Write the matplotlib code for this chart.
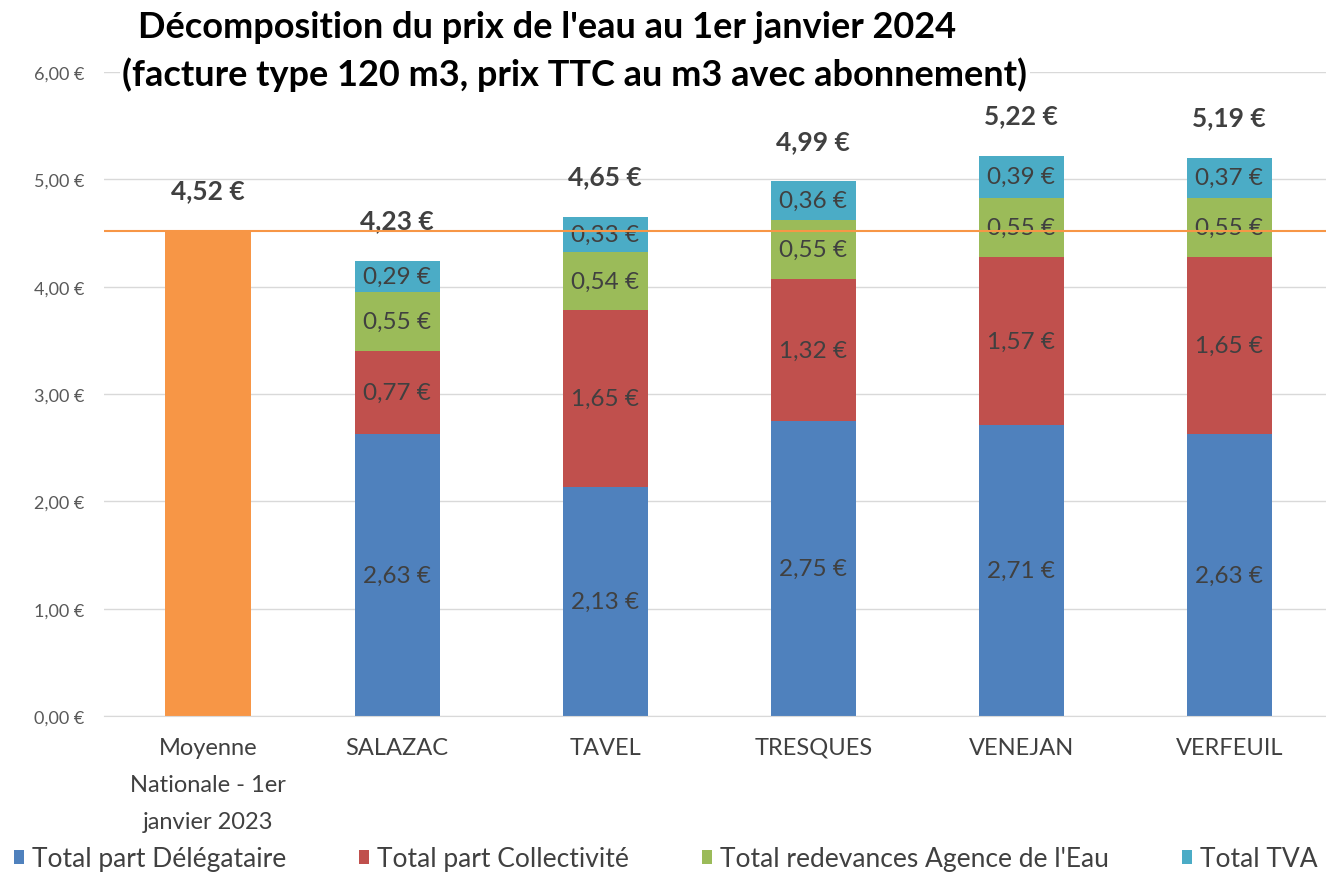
import matplotlib
matplotlib.use('Agg')
import matplotlib.pyplot as plt
import numpy as np

plt.rcParams['font.family'] = ['Lato', 'DejaVu Sans']

categories = ['Moyenne\nNationale - 1er\njanvier 2023', 'SALAZAC', 'TAVEL', 'TRESQUES', 'VENEJAN', 'VERFEUIL']
moyenne = 4.52
communes = categories[1:]
delegataire = [2.63, 2.13, 2.75, 2.71, 2.63]
collectivite = [0.77, 1.65, 1.32, 1.57, 1.65]
agence = [0.55, 0.54, 0.55, 0.55, 0.55]
tva = [0.29, 0.33, 0.36, 0.39, 0.37]
totaux = [4.23, 4.65, 4.99, 5.22, 5.19]

series = [
    ('Total part Délégataire', delegataire, '#4F81BD'),
    ('Total part Collectivité', collectivite, '#C0504D'),
    ("Total redevances Agence de l'Eau", agence, '#9BBB59'),
    ('Total TVA', tva, '#4BACC6'),
]


def euro(v):
    return f"{v:.2f} €".replace('.', ',')


fig = plt.figure(figsize=(13.26, 8.78), dpi=100)
ax = fig.add_axes([104 / 1326, 161 / 878, 1222 / 1326, 644 / 878])

width = 0.41
# la moyenne nationale est un peu decalee par rapport aux communes
x = np.arange(1, len(communes) + 1) - 0.09

ax.bar(0, moyenne, width, color='#F79646', zorder=2)
ax.annotate(euro(moyenne), (0, moyenne), xytext=(0, 29), textcoords='offset points',
            ha='center', va='center', fontsize=19, fontweight='bold', color='#404040')

bottom = np.zeros(len(communes))
for name, vals, col in series:
    vals = np.array(vals)
    ax.bar(x, vals, width, bottom=bottom, color=col, label=name, zorder=2)
    for xi, b, v in zip(x, bottom, vals):
        ax.text(xi, b + v / 2, euro(v), ha='center', va='center', fontsize=17.5, color='#404040', zorder=3)
    bottom += vals

for xi, top, t in zip(x, bottom, totaux):
    ax.annotate(euro(t), (xi, top), xytext=(0, 29), textcoords='offset points',
                ha='center', va='center', fontsize=19, fontweight='bold', color='#404040')

ax.axhline(moyenne, color='#F79646', lw=1.5, zorder=4)

ax.set_xlim(-0.5, 5.375)
ax.set_ylim(0, 6)
ax.set_yticks(np.arange(0, 7, 1))
ax.set_yticklabels([euro(v) for v in range(7)], fontsize=13, color='#595959')
ax.set_xticks(np.concatenate([[0], x]))
ax.set_xticklabels(categories, fontsize=17, color='#404040', linespacing=1.95)
ax.tick_params(axis='x', length=0, pad=15)
ax.tick_params(axis='y', length=0, pad=14)
ax.grid(axis='y', color='#D9D9D9', lw=1, zorder=0)
for s in ['top', 'right', 'left']:
    ax.spines[s].set_visible(False)
ax.spines['bottom'].set_color('#D9D9D9')

fig.text(547 / 1326, 1 - 27 / 878, "Décomposition du prix de l'eau au 1er janvier 2024",
         ha='center', va='center', fontsize=26, fontweight='bold', color='black',
         bbox=dict(facecolor='white', edgecolor='none', pad=2))
fig.text(575 / 1326, 1 - 75 / 878, "(facture type 120 m3, prix TTC au m3 avec abonnement)",
         ha='center', va='center', fontsize=26, fontweight='bold', color='black',
         bbox=dict(facecolor='white', edgecolor='none', pad=2))

ax.legend(loc='center', bbox_to_anchor=(0.502, 1 - 860 / 878), bbox_transform=fig.transFigure, ncol=4,
          frameon=False, fontsize=19, handlelength=0.4, handleheight=0.4, columnspacing=2.75,
          handletextpad=0.3, labelcolor='#404040', borderaxespad=0)

fig.savefig('out.png', dpi=100)
